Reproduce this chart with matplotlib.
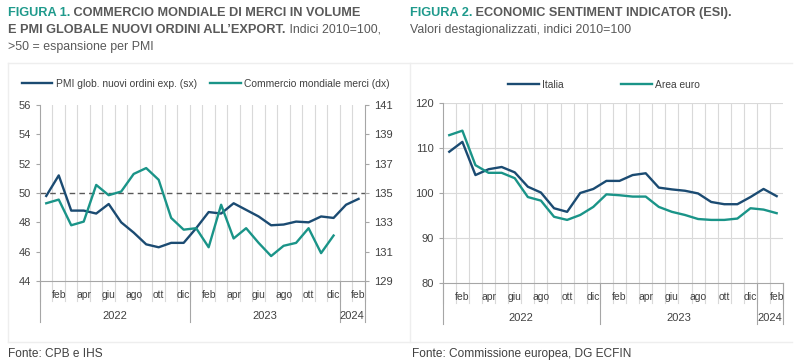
import numpy as np
import matplotlib
matplotlib.use("Agg")
import matplotlib.pyplot as plt
import matplotlib.transforms as mtransforms

plt.rcParams['font.family'] = ['Liberation Sans', 'DejaVu Sans']

# --- Dati ---
mesi = ['gen', 'feb', 'mar', 'apr', 'mag', 'giu', 'lug', 'ago', 'set', 'ott', 'nov', 'dic']
anni = ['2022', '2023', '2024']
n_mesi_anno = [12, 12, 2]

pmi_ordini = [49.8, 51.2, 48.8, 48.8, 48.6, 49.25, 48.0, 47.3, 46.5, 46.3, 46.6, 46.6,
              47.6, 48.7, 48.6, 49.3, 48.85, 48.4, 47.8, 47.85, 48.05, 48.0, 48.4, 48.3,
              49.2, 49.6]
commercio = [134.3, 134.55, 132.8, 133.05, 135.55, 134.85, 135.1, 136.3, 136.7, 135.9, 133.3, 132.5,
             132.6, 131.3, 134.2, 131.9, 132.6, 131.6, 130.7, 131.4, 131.6, 132.6, 130.9, 132.1]

esi_italia = [109.2, 111.4, 104.0, 105.3, 105.8, 104.6, 101.4, 100.1, 96.6, 95.8, 100.0, 100.9,
              102.7, 102.7, 104.0, 104.4, 101.2, 100.8, 100.5, 99.9, 98.0, 97.5, 97.5, 99.1,
              100.9, 99.3]
esi_euro = [112.9, 113.9, 106.2, 104.5, 104.5, 103.3, 99.1, 98.3, 94.7, 94.0, 95.1, 96.9,
            99.7, 99.5, 99.2, 99.2, 96.9, 95.8, 95.1, 94.2, 94.0, 94.0, 94.3, 96.6,
            96.3, 95.5]

BLU = '#1b4b72'
VERDE = '#1a9488'
GRIGIO_TESTO = '#404040'
GRIGIO_GRIGLIA = '#d9d9d9'
GRIGIO_ASSE = '#a6a6a6'
TEAL_TITOLO = '#1f9a8c'
GRIGIO_TITOLO = '#595959'

n = sum(n_mesi_anno)
etichette_mesi = [mesi[i % 12] for i in range(n)]


def asse_categorie(ax):
    """Asse x a due livelli (mesi / anni) come nel grafico originale."""
    ax.set_xlim(0, n)
    ax.set_xticks([])
    for x in range(1, n):
        ax.axvline(x, color=GRIGIO_GRIGLIA, lw=0.8, zorder=0)
    trans = mtransforms.blended_transform_factory(ax.transData, ax.transAxes)
    h = ax.get_position().height * 363
    tick_len = 20 / h
    sep_len = 41 / h
    for x in range(0, n + 1):
        ax.plot([x, x], [0, -tick_len], transform=trans, color=GRIGIO_GRIGLIA,
                lw=0.8, clip_on=False)
    for i, lab in enumerate(etichette_mesi):
        if i % 2 == 1:
            ax.text(i + 0.5, -14 / h, lab, transform=trans, ha='center', va='center',
                    fontsize=7.5, color=GRIGIO_TESTO)
    start = 0
    for anno, k in zip(anni, n_mesi_anno):
        ax.plot([start, start], [0, -sep_len], transform=trans, color=GRIGIO_ASSE,
                lw=0.8, clip_on=False)
        ax.text(start + k / 2, -35 / h, anno, transform=trans, ha='center', va='center',
                fontsize=8, color=GRIGIO_TESTO)
        start += k
    ax.plot([n, n], [0, -sep_len], transform=trans, color=GRIGIO_ASSE, lw=0.8, clip_on=False)
    for s in ['top', 'right']:
        ax.spines[s].set_visible(False)
    ax.spines['left'].set_color(GRIGIO_ASSE)
    ax.spines['bottom'].set_color(GRIGIO_ASSE)
    ax.tick_params(axis='y', colors=GRIGIO_ASSE, labelcolor=GRIGIO_TESTO, labelsize=8,
                   length=3, width=0.8)


def titolo(fig, ax_ref, x, y, parti):
    """Scrive una riga di titolo composta da pezzi con stili diversi."""
    def size(peso):
        return 9.2 if peso == 'bold' else 8.9
    testo, colore, peso = parti[0]
    t = fig.text(x, y, testo, color=colore, fontweight=peso, fontsize=size(peso),
                 ha='left', va='baseline')
    for testo, colore, peso in parti[1:]:
        t = ax_ref.annotate(testo, xy=(1, 0), xycoords=t, va='bottom', ha='left',
                            color=colore, fontweight=peso, fontsize=size(peso),
                            annotation_clip=False)
    return t


fig = plt.figure(figsize=(8, 3.63), dpi=100)

# --- pannelli di sfondo ---
fig.add_artist(plt.Line2D([0.01, 0.99], [1 - 63 / 363] * 2, color='#eeeeee', lw=1))
fig.add_artist(plt.Line2D([0.01, 0.99], [1 - 342 / 363] * 2, color='#eeeeee', lw=1))
fig.add_artist(plt.Line2D([0.01, 0.01], [1 - 63 / 363, 1 - 342 / 363], color='#eeeeee', lw=1))
fig.add_artist(plt.Line2D([0.5125, 0.5125], [1 - 63 / 363, 1 - 342 / 363], color='#eeeeee', lw=1))

# --- Figura 1 ---
ax1 = fig.add_axes([0.05, 1 - 281 / 363, 0.406, (281 - 105) / 363])
x_pmi = np.arange(len(pmi_ordini)) + 0.5
x_comm = np.arange(len(commercio)) + 0.5
ax1.set_ylim(44, 56)
ax1.set_yticks(np.arange(44, 57, 2))
asse_categorie(ax1)
ax1.axhline(50, color='#595959', lw=1, ls=(0, (4, 3)), zorder=1)
l1, = ax1.plot(x_pmi, pmi_ordini, color=BLU, lw=1.7, zorder=3)
ax1b = ax1.twinx()
ax1b.set_ylim(129, 141)
ax1b.set_yticks(np.arange(129, 142, 2))
for s in ['top', 'left', 'bottom']:
    ax1b.spines[s].set_visible(False)
ax1b.spines['right'].set_color(GRIGIO_ASSE)
ax1b.tick_params(axis='y', colors=GRIGIO_ASSE, labelcolor=GRIGIO_TESTO, labelsize=8,
                 length=3, width=0.8)
l2, = ax1b.plot(x_comm, commercio, color=VERDE, lw=1.7, zorder=3)
fig.legend([l1, l2], ['PMI glob. nuovi ordini exp. (sx)', 'Commercio mondiale merci (dx)'],
           loc='center left', bbox_to_anchor=(0.027, 1 - 84 / 363), ncol=2, frameon=False,
           fontsize=7.4, handlelength=3.0, handletextpad=0.3, columnspacing=1.3,
           labelcolor=GRIGIO_TESTO, borderaxespad=0, borderpad=0)

# --- Figura 2 ---
ax2 = fig.add_axes([0.5534, 1 - 282.7 / 363, 0.4256, (282.7 - 103.3) / 363])
ax2.set_ylim(80, 120)
ax2.set_yticks(np.arange(80, 121, 10))
asse_categorie(ax2)
for v in range(90, 121, 10):
    ax2.axhline(v, color=GRIGIO_GRIGLIA, lw=0.8, zorder=0)
l3, = ax2.plot(np.arange(len(esi_italia)) + 0.5, esi_italia, color=BLU, lw=1.7, zorder=3)
l4, = ax2.plot(np.arange(len(esi_euro)) + 0.5, esi_euro, color=VERDE, lw=1.7, zorder=3)
fig.legend([l3, l4], ['Italia', 'Area euro'],
           loc='center left', bbox_to_anchor=(0.635, 1 - 84.7 / 363), ncol=2, frameon=False,
           fontsize=7.4, handlelength=3.0, handletextpad=0.3, columnspacing=5.6,
           labelcolor=GRIGIO_TESTO, borderaxespad=0, borderpad=0)

# --- Titoli ---
y1, y2, y3 = 1 - 16 / 363, 1 - 33 / 363, 1 - 50 / 363
titolo(fig, ax1, 0.01, y1, [('FIGURA 1.', TEAL_TITOLO, 'bold'),
                            (' COMMERCIO MONDIALE DI MERCI IN VOLUME', GRIGIO_TITOLO, 'bold')])
titolo(fig, ax1, 0.01, y2, [('E PMI GLOBALE NUOVI ORDINI ALL\u2019EXPORT.', GRIGIO_TITOLO, 'bold'),
                            (' Indici 2010=100,', GRIGIO_TITOLO, 'normal')])
titolo(fig, ax1, 0.01, y3, [('>50 = espansione per PMI', GRIGIO_TITOLO, 'normal')])
titolo(fig, ax2, 0.5125, y1, [('FIGURA 2.', TEAL_TITOLO, 'bold'),
                              (' ECONOMIC SENTIMENT INDICATOR (ESI).', GRIGIO_TITOLO, 'bold')])
titolo(fig, ax2, 0.5125, y2, [('Valori destagionalizzati, indici 2010=100', GRIGIO_TITOLO, 'normal')])

fig.text(0.01, 1 - 354 / 363, 'Fonte: CPB e IHS', fontsize=8.6, color=GRIGIO_TESTO, va='center')
fig.text(0.515, 1 - 354 / 363, 'Fonte: Commissione europea, DG ECFIN', fontsize=8.6,
         color=GRIGIO_TESTO, va='center')

fig.savefig('out.png', dpi=100)
